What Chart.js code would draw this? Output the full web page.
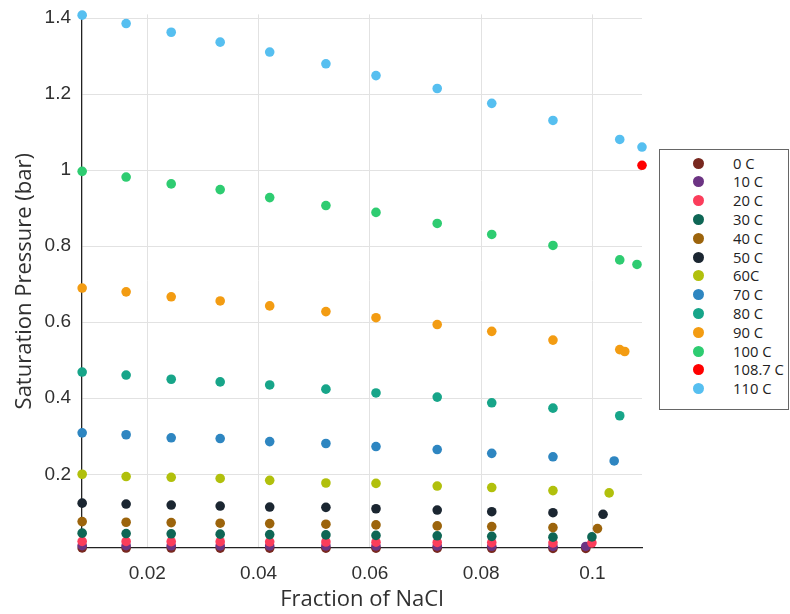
<!DOCTYPE html>
<html lang="en">
<head>
  <meta charset="UTF-8">
  <title>Saturation Pressure vs Fraction of NaCl</title>
  <script src="https://cdn.jsdelivr.net/npm/chart.js"></script>
  <style>
    body { margin: 0; background: #fff; }
    .wrap { position: relative; width: 790px; height: 614px; }
    #legend {
      position: absolute;
      left: 659px; top: 149px;
      width: 128px; height: 259px;
      border: 1px solid #666;
      background: #fff;
      font-family: "Open Sans", sans-serif;
      font-size: 14.8px;
      color: #222;
    }
    .row { position: absolute; left: 0; height: 19px; line-height: 19px; width: 100%; }
    .dot { position: absolute; left: 33px; top: 4px; width: 11px; height: 11px; border-radius: 50%; }
    .lbl { position: absolute; left: 73px; top: 0; white-space: nowrap; }
  </style>
</head>
<body>
<div class="wrap">
  <canvas id="c" width="790" height="614"></canvas>
  <div id="legend"></div>
</div>
<script>
// mass fraction of NaCl, shared by most series
const xCommon = [0.0083, 0.0162, 0.0243, 0.0331, 0.0420, 0.0521, 0.0611, 0.0721, 0.0819, 0.0929];

const seriesLabels = ['0 C', '10 C', '20 C', '30 C', '40 C', '50 C', '60C', '70 C', '80 C', '90 C', '100 C', '108.7 C', '110 C'];
const seriesColors = ['#78281f', '#6c3483', '#fb3d5b', '#0e6655', '#9c640c', '#1b2631', '#b1c00c',
                      '#2e86c1', '#17a589', '#f39c12', '#2ecc71', '#ff0000', '#56bff0'];

// extra points near saturation (x values)
const xTail = [
  [0.0988], [0.0988], [0.0999], [0.0999], [0.1009], [0.1019], [0.1030],
  [0.1039], [0.1049], [0.1049, 0.1058], [0.1049, 0.1080], [], [0.1049, 0.1089]
];

// saturation pressure (bar)
const p0C   = [0.0061, 0.0060, 0.0059, 0.0058, 0.0057, 0.0056, 0.0055, 0.0054, 0.0052, 0.0050, 0.0049];
const p10C  = [0.0123, 0.0121, 0.0119, 0.0117, 0.0115, 0.0113, 0.0111, 0.0108, 0.0105, 0.0101, 0.0100];
const p20C  = [0.0235, 0.0232, 0.0229, 0.0226, 0.0222, 0.0218, 0.0213, 0.0208, 0.0202, 0.0196, 0.0195];
const p30C  = [0.0451, 0.0441, 0.0433, 0.0425, 0.0412, 0.0405, 0.0392, 0.0381, 0.0366, 0.0345, 0.0352];
const p40C  = [0.0754, 0.0738, 0.0728, 0.0712, 0.0702, 0.0686, 0.0668, 0.0642, 0.0624, 0.0597, 0.0571];
const p50C  = [0.1240, 0.1216, 0.1190, 0.1164, 0.1137, 0.1130, 0.1093, 0.1059, 0.1015, 0.0989, 0.0947];
const p60C  = [0.2000, 0.1940, 0.1920, 0.1890, 0.1840, 0.1770, 0.1760, 0.1690, 0.1650, 0.1570, 0.1510];
const p70C  = [0.309, 0.304, 0.296, 0.294, 0.286, 0.281, 0.273, 0.265, 0.255, 0.246, 0.235];
const p80C  = [0.469, 0.461, 0.450, 0.443, 0.435, 0.424, 0.414, 0.403, 0.388, 0.374, 0.354];
const p90C  = [0.690, 0.680, 0.667, 0.656, 0.643, 0.628, 0.612, 0.594, 0.576, 0.553, 0.528, 0.523];
const p100C = [0.997, 0.982, 0.964, 0.949, 0.928, 0.907, 0.889, 0.860, 0.831, 0.802, 0.764, 0.752];
const x108C = [0.1089];
const p108C = [1.013];
const p110C = [1.408, 1.386, 1.363, 1.337, 1.311, 1.280, 1.249, 1.215, 1.176, 1.131, 1.081, 1.061];

const pressures = [p0C, p10C, p20C, p30C, p40C, p50C, p60C, p70C, p80C, p90C, p100C, p108C, p110C];

const xTicks = [0.02, 0.04, 0.06, 0.08, 0.1];
const yTicks = [0.2, 0.4, 0.6, 0.8, 1, 1.2, 1.4];

const tickFont = { family: '"Liberation Sans", Arial, sans-serif', size: 19 };
const titleFont = { family: '"Open Sans", sans-serif', size: 22 };

const datasets = seriesLabels.map((lab, i) => {
  const xs = i === 11 ? x108C : xCommon.concat(xTail[i]);
  return {
    label: lab,
    data: pressures[i].map((p, k) => ({ x: xs[k], y: p })),
    backgroundColor: seriesColors[i],
    borderColor: seriesColors[i],
    pointRadius: 4.8,
    pointBorderWidth: 0,
    clip: false,
    order: seriesLabels.length - i   // later series drawn on top
  };
});

new Chart(document.getElementById('c'), {
  type: 'scatter',
  data: { datasets },
  options: {
    responsive: false,
    animation: false,
    layout: { padding: { left: 10, right: 148, top: 10, bottom: 0 } },
    plugins: { legend: { display: false }, tooltip: { enabled: false } },
    scales: {
      x: {
        type: 'linear',
        min: 0.00827,
        max: 0.1089,
        afterBuildTicks: s => { s.ticks = xTicks.map(v => ({ value: v })); },
        afterFit: s => { s.height = 66; },
        ticks: {
          color: '#303030',
          font: tickFont,
          padding: 6,
          maxRotation: 0,
          callback: v => String(+Number(v).toFixed(3))
        },
        grid: { color: '#e2e2e2', tickColor: 'transparent', tickLength: 8 },
        border: { color: '#222', width: 1.3 },
        title: { display: true, text: 'Fraction of NaCl', color: '#303030', font: titleFont, padding: { top: 2, bottom: 1 } }
      },
      y: {
        min: 0.006,
        max: 1.41,
        afterBuildTicks: s => { s.ticks = yTicks.map(v => ({ value: v })); },
        afterFit: s => { s.width = 72; },
        ticks: {
          color: '#303030',
          font: tickFont,
          padding: 3,
          callback: v => String(+Number(v).toFixed(2))
        },
        grid: { color: '#e2e2e2', tickColor: 'transparent', tickLength: 8 },
        border: { color: '#222', width: 1.3 },
        title: { display: true, text: 'Saturation Pressure (bar)', color: '#303030', font: titleFont, padding: { top: 2, bottom: 0 } }
      }
    }
  }
});

// legend box
const leg = document.getElementById('legend');
seriesLabels.forEach((lab, i) => {
  const row = document.createElement('div');
  row.className = 'row';
  row.style.top = (3.5 + i * 18.8) + 'px';
  row.innerHTML = '<span class="dot" style="background:' + seriesColors[i] + '"></span><span class="lbl">' + lab + '</span>';
  leg.appendChild(row);
});
</script>
</body>
</html>
